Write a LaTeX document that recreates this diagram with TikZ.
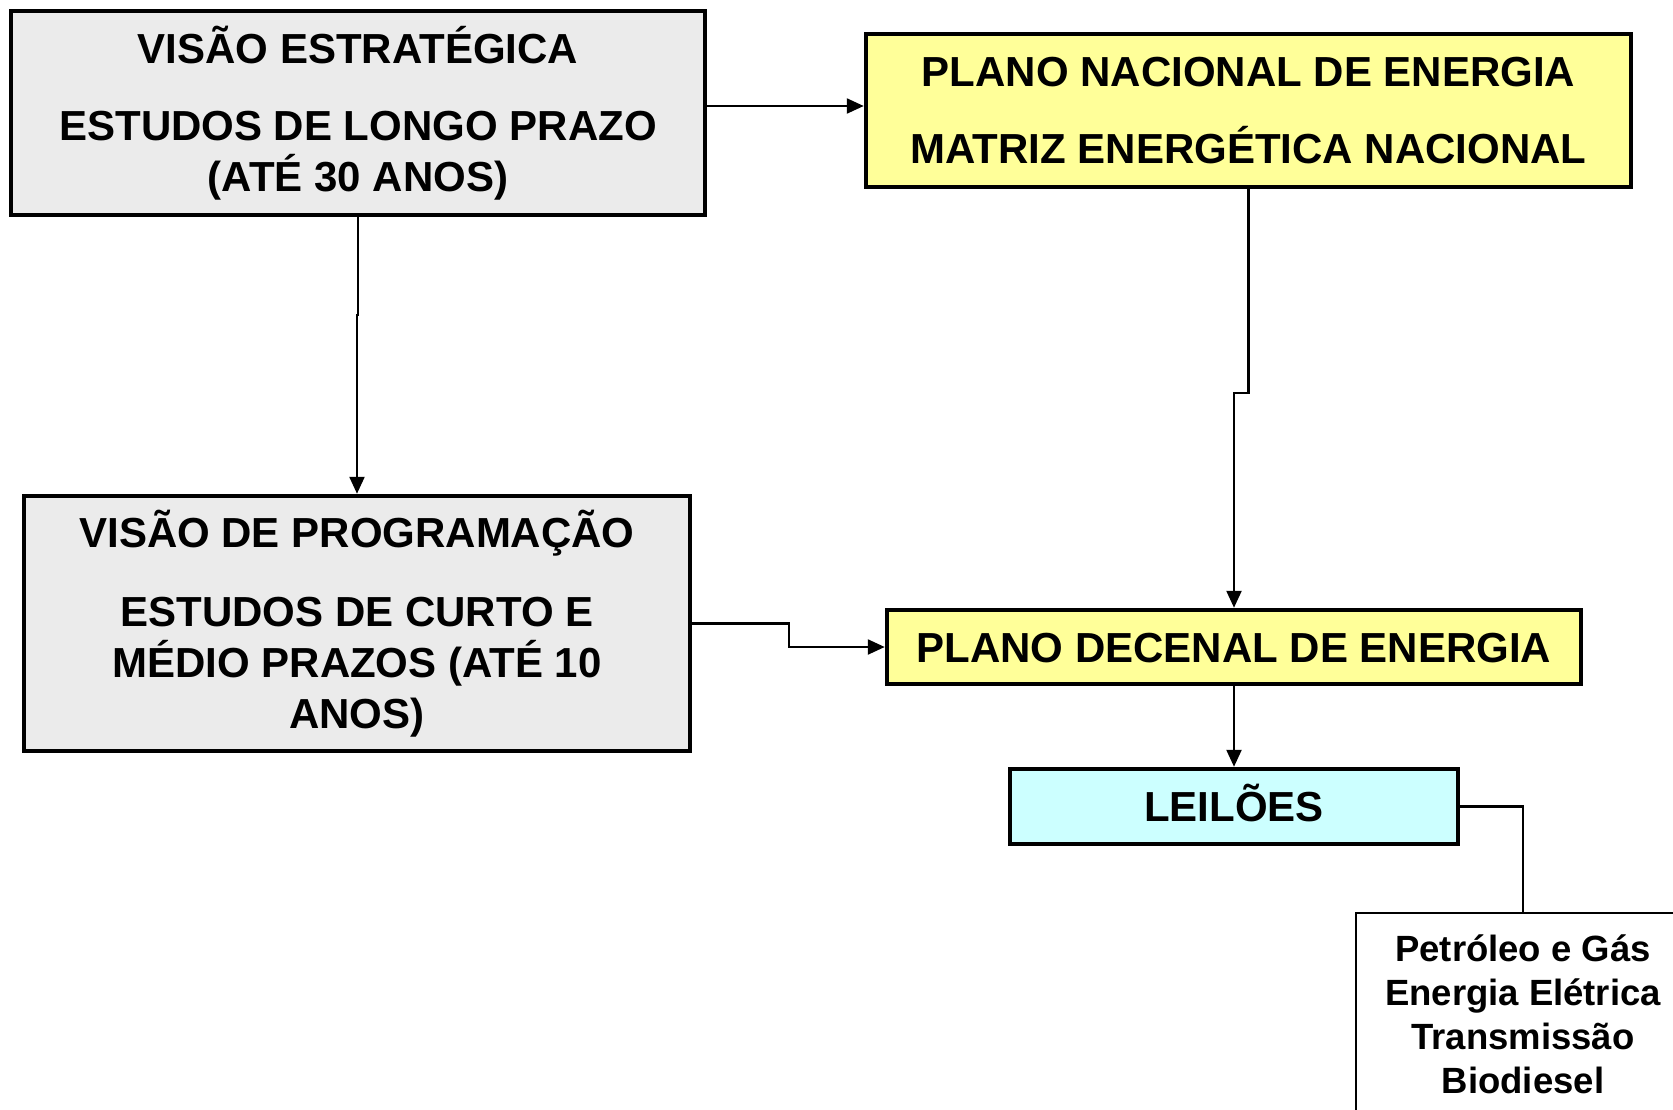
\documentclass[tikz,border=0pt]{standalone}
\usepackage{fontspec}
\setmainfont{Liberation Sans}
\usetikzlibrary{arrows.meta}
\definecolor{boxgray}{RGB}{235,235,235}
\definecolor{boxyellow}{RGB}{255,255,153}
\definecolor{boxcyan}{RGB}{204,255,255}
\tikzset{
  big/.style={font=\fontsize{42}{51}\selectfont\bfseries},
  small/.style={font=\fontsize{36.5}{44}\selectfont\bfseries},
  stage/.style={draw=black, line width=4.5pt, rectangle, align=center, inner sep=0pt, big},
  list/.style={draw=black, line width=2.2pt, fill=white, rectangle, align=center, inner sep=0pt, small},
  arr/.style={line width=2.4pt, -{Triangle[length=17pt,width=15pt]}},
  link/.style={line width=2.4pt}
}
\begin{document}
\begin{tikzpicture}[x=1pt,y=-1pt]
\useasboundingbox (0,0) rectangle (1673,1109);
\clip (0,0) rectangle (1673,1109);
\fill[white] (0,0) rectangle (1673,1109);

\node[stage, fill=boxgray, minimum width=694pt, minimum height=204pt] (b1) at (358,113)
  {VISÃO ESTRATÉGICA\\[26pt]ESTUDOS DE LONGO PRAZO\\(ATÉ 30 ANOS)};
\node[stage, fill=boxyellow, minimum width=765pt, minimum height=153pt] (b2) at (1248.5,110.5)
  {PLANO NACIONAL DE ENERGIA\\[26pt]MATRIZ ENERGÉTICA NACIONAL};
\node[stage, fill=boxgray, minimum width=666pt, minimum height=255pt] (b3) at (357,623.5)
  {VISÃO DE PROGRAMAÇÃO\\[28pt]ESTUDOS DE CURTO E\\MÉDIO PRAZOS (ATÉ 10\\ANOS)};
\node[stage, fill=boxyellow, minimum width=694pt, minimum height=74pt, text height=30pt, text depth=0pt] (b4) at (1234,647)
  {PLANO DECENAL DE ENERGIA};
\node[stage, fill=boxcyan, minimum width=448pt, minimum height=75pt, text height=30pt, text depth=0pt] (b5) at (1234,806.5)
  {LEILÕES};
\node[list, minimum width=334pt, minimum height=202pt] (b6) at (1523,1014)
  {Petróleo e Gás\\Energia Elétrica\\Transmissão\\Biodiesel};

\coordinate (j3) at (789,0);
\coordinate (j4) at (0,393);
\coordinate (j2) at (0,315);

\draw[arr] ([yshift=7pt]b1.east) -- ([yshift=7pt]b1.east -| b2.west);
\draw[arr] (b1.south) -- (b1.south |- j2) -| (b3.north);
\draw[arr] (b3.east) -- (b3.east -| j3) |- (b4.west);
\draw[arr] (b2.south) -- (b2.south |- j4) -| (b4.north);
\draw[arr] (b4.south) -- (b5.north);
\draw[link] (b5.east) -| (b6.north);
\end{tikzpicture}
\end{document}
